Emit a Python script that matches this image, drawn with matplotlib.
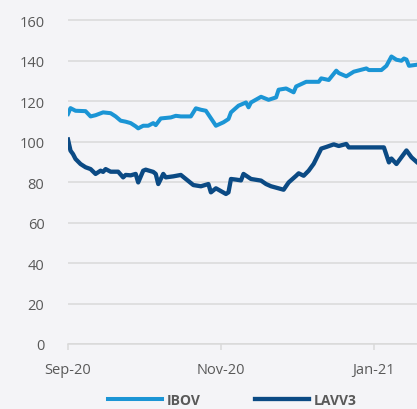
import matplotlib

matplotlib.use("Agg")
import matplotlib.pyplot as plt
import matplotlib.dates as mdates
import pandas as pd

# data, days counted from 1 Sep 2020
start = pd.Timestamp("2020-09-01")

ibov_days = [0, 1, 3, 7, 9, 11, 14, 17, 19, 21, 23, 25, 27, 28, 30, 32, 34, 35,
             37, 41, 43, 45, 49, 51, 53, 55, 57, 59, 62, 64, 65, 68, 71, 72, 73,
             77, 80, 83, 84, 87, 90, 91, 95, 100, 101, 104, 107, 108, 111, 114,
             119, 120, 125, 127, 129, 131, 133, 134, 135, 136, 139]
ibov_vals = [113.6, 116.5, 115.2, 115.0, 112.4, 113.0, 114.4, 114.0, 112.4, 110.3,
             109.8, 109.1, 107.5, 106.5, 107.8, 107.8, 109.1, 108.1, 111.4, 111.9,
             112.7, 112.4, 112.4, 116.4, 115.7, 115.2, 111.5, 107.8, 109.5, 111.1,
             114.4, 117.7, 119.3, 116.9, 119.3, 122.1, 120.6, 121.8, 125.6, 126.2,
             124.3, 127.2, 129.5, 129.5, 131.2, 130.4, 135.0, 133.8, 132.2, 134.5,
             136.1, 135.3, 135.3, 137.4, 142.0, 140.4, 139.9, 141.0, 140.5, 137.4,
             137.9]

lavv_days = [0, 1, 2, 3, 5, 7, 9, 11, 13, 14, 15, 17, 20, 22, 23, 25, 27, 28, 30,
             31, 34, 35, 36, 38, 39, 42, 45, 47, 50, 53, 56, 57, 59, 63, 64, 65, 67,
             69, 70, 73, 77, 79, 81, 86, 88, 91, 92, 94, 96, 98, 101, 103, 106, 108,
             111, 112, 126, 128, 129, 131, 135, 137, 139]
lavv_vals = [101.0, 95.5, 93.8, 91.4, 88.9, 87.3, 86.4, 84.0, 85.6, 85.0, 86.4, 85.1,
             85.1, 82.3, 83.5, 83.3, 84.0, 79.8, 85.6, 86.1, 85.0, 84.0, 79.0, 84.0,
             82.3, 82.8, 83.5, 81.5, 78.5, 77.9, 79.0, 74.9, 76.9, 74.1, 74.9, 81.5,
             81.2, 80.8, 84.0, 81.5, 80.7, 79.0, 77.9, 76.2, 79.8, 83.1, 84.3, 83.1,
             85.6, 89.0, 96.5, 97.3, 98.6, 97.8, 98.8, 97.1, 97.1, 89.7, 91.6, 88.9,
             95.6, 92.2, 90.0]

series_names = ["IBOV", "LAVV3"]
series_colors = ["#1b95d5", "#0b4a84"]

bg = "#f4f4f7"
grey_text = "#595959"
grid_col = "#d9d9d9"

ibov_dates = start + pd.to_timedelta(ibov_days, unit="D")
lavv_dates = start + pd.to_timedelta(lavv_days, unit="D")

fig = plt.figure(figsize=(4.17, 4.10), dpi=100)
fig.patch.set_facecolor(bg)

# axes runs off the right edge, like the cropped original
ax = fig.add_axes([68 / 417, 65 / 410, (417 - 68) / 417, 328 / 410])
ax.set_facecolor(bg)

ax.plot(ibov_dates, ibov_vals, color=series_colors[0], linewidth=2.9,
        solid_joinstyle="round", label=series_names[0])
ax.plot(lavv_dates, lavv_vals, color=series_colors[1], linewidth=3.1,
        solid_joinstyle="round", label=series_names[1])

ax.set_ylim(0, 162)
ax.set_yticks(range(0, 161, 20))
ax.set_xlim(start, start + pd.Timedelta(days=139.2))
ax.xaxis.set_major_locator(mdates.MonthLocator(bymonth=[1, 3, 5, 7, 9, 11]))
ax.xaxis.set_major_formatter(mdates.DateFormatter("%b-%y"))

ax.grid(axis="y", color=grid_col, linewidth=1.1)
ax.set_axisbelow(True)
for side in ["top", "right", "left"]:
    ax.spines[side].set_visible(False)
ax.spines["bottom"].set_color(grid_col)
ax.spines["bottom"].set_linewidth(1.1)

ax.tick_params(axis="y", length=0, pad=17, labelsize=10.5, labelcolor=grey_text)
ax.tick_params(axis="x", length=4, width=1.1, color=grid_col, pad=9,
               labelsize=10.5, labelcolor=grey_text)
for lab in ax.get_xticklabels() + ax.get_yticklabels():
    lab.set_fontfamily("Open Sans")

leg = fig.legend(loc="center", bbox_to_anchor=(232 / 417, 9 / 410), ncol=2,
                 frameon=False, handlelength=3.9, handletextpad=0.35,
                 columnspacing=3.9,
                 prop={"family": "Open Sans", "size": 10, "weight": "bold"})
for t in leg.get_texts():
    t.set_color(grey_text)

fig.savefig("out.png", dpi=100, facecolor=bg)
